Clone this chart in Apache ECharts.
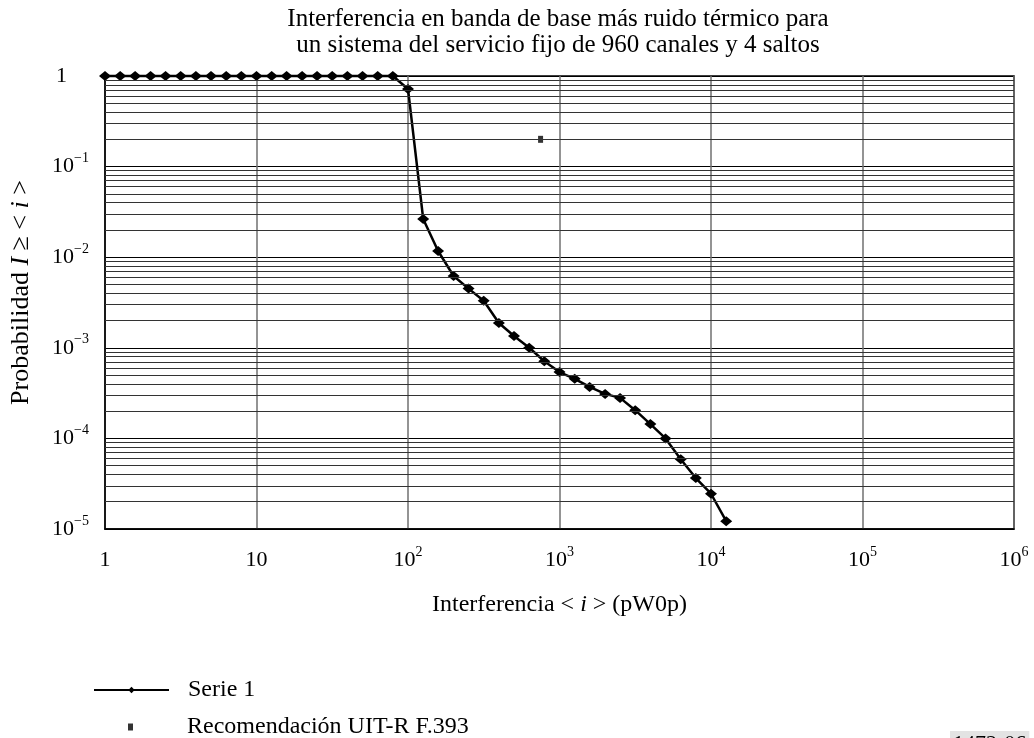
<!DOCTYPE html>
<html>
<head>
<meta charset="utf-8">
<script src="https://cdn.jsdelivr.net/npm/echarts@6/dist/echarts.min.js"></script>
<style>
  html, body { margin: 0; padding: 0; background: #fff; }
  #chart { width: 1034px; height: 738px; }
</style>
</head>
<body>
<div id="chart"></div>
<script>
// interference <i> in pW0p (read at 0.1 decade steps)
const interference = [
    1, 1.26, 1.58, 2, 2.51, 3.16, 3.98, 5.01, 6.31, 7.94,
    10, 12.6, 15.8, 20, 25.1, 31.6, 39.8, 50.1, 63.1, 79.4,
    100, 126, 158, 200, 251, 316, 398, 501, 631, 794,
    1000, 1260, 1580, 2000, 2510, 3160, 3980, 5010, 6310, 7940,
    10000, 12600
];
// probability I >= <i>
const probability = [
    1, 1, 1, 1, 1, 1, 1, 1, 1, 1,
    1, 1, 1, 1, 1, 1, 1, 1, 1, 1,
    0.72, 0.0264, 0.0117, 0.0062, 0.0045, 0.0033, 0.00188, 0.00135, 0.00100, 0.00071,
    0.00054, 0.000455, 0.00037, 0.00031, 0.00028, 0.000205, 0.000144, 0.0001, 0.000059, 0.0000365,
    0.0000245, 0.0000122
];
const recInterference = [750];
const recProbability = [0.2];

const seriesNames = ['Serie 1', 'Recomendación UIT-R F.393'];
// tick labels, indexed by decade exponent
const xTickLabels = ['{b|1}', '{b|10}', '{b|10}{s|2}', '{b|10}{s|3}', '{b|10}{s|4}', '{b|10}{s|5}', '{b|10}{s|6}'];
const yTickLabels = ['{b|1}{sp|}', '{b|10}{s|−1}', '{b|10}{s|−2}', '{b|10}{s|−3}', '{b|10}{s|−4}', '{b|10}{s|−5}'];

const FONT = '"Liberation Serif", "Times New Roman", serif';

// minor horizontal grid lines 2..9 x 10^k
const minorY = [];
for (let k = -5; k < 0; k++) {
    for (let m = 2; m <= 9; m++) {
        minorY.push(+(m * Math.pow(10, k)).toPrecision(3));
    }
}

const tickRich = {
    b: {fontFamily: FONT, fontSize: 22, lineHeight: 22, color: '#000', verticalAlign: 'bottom'},
    s: {fontFamily: FONT, fontSize: 14, lineHeight: 14, color: '#000', verticalAlign: 'bottom', padding: [0, 0, 12, 0]},
    sp: {width: 22}
};

const nameRich = {it: {fontFamily: FONT, fontStyle: 'italic', color: '#000'}};

const chart = echarts.init(document.getElementById('chart'), null, {renderer: 'canvas'});

chart.setOption({
    backgroundColor: '#fff',
    animation: false,
    textStyle: {fontFamily: FONT},
    title: [{
        text: 'Interferencia en banda de base más ruido térmico para\nun sistema del servicio fijo de 960 canales y 4 saltos',
        left: 558,
        top: 6,
        padding: 0,
        textAlign: 'center',
        textStyle: {fontFamily: FONT, fontSize: 25, lineHeight: 26, fontWeight: 'normal', color: '#000'}
    }, {
        text: '1472-06',
        left: 950,
        top: 731,
        padding: [2, 3, 2, 3],
        backgroundColor: '#e3e3e3',
        textStyle: {fontFamily: FONT, fontSize: 22, fontWeight: 'normal', color: '#000'}
    }],
    grid: {
        left: 105, right: 20, top: 76, bottom: 209,
        show: true, borderColor: '#000', borderWidth: 1.5,
        containLabel: false
    },
    legend: [{
        data: [seriesNames[0]],
        left: 93, top: 678, padding: 0,
        itemWidth: 75, itemHeight: 8,
        textStyle: {fontFamily: FONT, fontSize: 24, color: '#000', padding: [0, 0, 0, 14]}
    }, {
        data: [{name: seriesNames[1], icon: 'rect'}],
        left: 128, top: 715, padding: 0,
        itemWidth: 5, itemHeight: 7,
        textStyle: {fontFamily: FONT, fontSize: 24, color: '#000', padding: [0, 0, 0, 49]}
    }],
    xAxis: {
        type: 'log',
        logBase: 10,
        min: 1,
        max: 1e6,
        splitNumber: 6,
        name: 'Interferencia < {it|i} > (pW0p)',
        nameLocation: 'middle',
        nameGap: 64,
        nameTextStyle: {
            fontFamily: FONT, fontSize: 24, color: '#000',
            rich: {it: Object.assign({fontSize: 24}, nameRich.it)}
        },
        axisLine: {lineStyle: {color: '#000', width: 1.5}},
        axisTick: {show: false},
        axisLabel: {
            margin: 20,
            formatter: v => xTickLabels[Math.round(Math.log10(v))],
            rich: tickRich
        },
        splitLine: {show: true, lineStyle: {color: '#707070', width: 1.5}}
    },
    yAxis: {
        type: 'log',
        logBase: 10,
        min: 1e-5,
        max: 1,
        splitNumber: 5,
        name: 'Probabilidad {it|I} ≥ < {it|i} >',
        nameLocation: 'middle',
        nameRotate: 90,
        nameGap: 71,
        nameTextStyle: {
            fontFamily: FONT, fontSize: 26, color: '#000',
            padding: [0, 0, 0, 20],
            rich: {it: Object.assign({fontSize: 26}, nameRich.it)}
        },
        axisLine: {lineStyle: {color: '#000', width: 1.5}},
        axisTick: {show: false},
        axisLabel: {
            margin: 16,
            formatter: v => yTickLabels[-Math.round(Math.log10(v))],
            rich: tickRich
        },
        splitLine: {show: true, lineStyle: {color: '#000', width: 1}}
    },
    series: [{
        name: 'minor-grid',
        type: 'line',
        data: [],
        z: 1,
        silent: true,
        markLine: {
            silent: true,
            precision: 12,
            symbol: 'none',
            label: {show: false},
            lineStyle: {color: '#333', width: 1, type: 'solid'},
            data: minorY.map(v => ({yAxis: v}))
        }
    }, {
        name: seriesNames[0],
        type: 'line',
        z: 3,
        clip: false,
        data: interference.map((x, i) => [x, probability[i]]),
        symbol: 'diamond',
        symbolSize: [12, 10],
        showAllSymbol: true,
        color: '#000',
        itemStyle: {color: '#000'},
        lineStyle: {color: '#000', width: 2.5}
    }, {
        name: seriesNames[1],
        type: 'scatter',
        z: 3,
        data: recInterference.map((x, i) => [x, recProbability[i]]),
        symbol: 'rect',
        symbolSize: [5, 7],
        itemStyle: {color: '#000'}
    }]
});
</script>
</body>
</html>
